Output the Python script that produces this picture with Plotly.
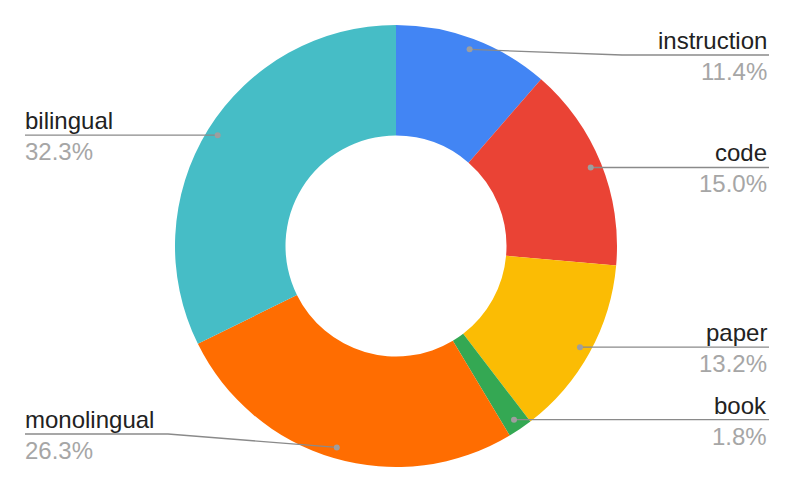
import numpy as np
import plotly.graph_objects as go

# slices clockwise from 12 o'clock
labels = ["instruction", "code", "paper", "book", "monolingual", "bilingual"]
shares = [11.4, 15.0, 13.2, 1.8, 26.3, 32.3]
colors = ["#4285F4", "#EA4335", "#FBBC04", "#34A853", "#FF6D01", "#46BDC6"]

W, H = 793, 490
CX, CY, R = 396, 246, 221   # pie centre / radius in pixels
DOT_R = 0.95 * R
LABEL_RIGHT, LABEL_LEFT = 769, 25
ELBOW_RIGHT, ELBOW_LEFT = 622, 168
Y_MIN, Y_MAX = 55, 434


def px(x, y):
    return x / W, 1 - y / H


fig = go.Figure(go.Pie(
    labels=labels, values=shares, sort=False, direction="clockwise", rotation=0,
    hole=0.5, textinfo="none", hoverinfo="label+percent",
    marker=dict(colors=colors, line=dict(width=0)),
    domain=dict(x=[(CX - R) / W, (CX + R) / W], y=[(H - CY - R) / H, (H - CY + R) / H]),
))

shapes, annotations = [], []
total = sum(shares)
cum = 0.0
for name, val in zip(labels, shares):
    mid = (cum + val / 2) / total * 2 * np.pi
    cum += val
    dx, dy = CX + DOT_R * np.sin(mid), CY - DOT_R * np.cos(mid)
    ly = min(max(dy, Y_MIN), Y_MAX)
    right = np.sin(mid) > 0
    end_x = LABEL_RIGHT if right else LABEL_LEFT
    elbow_x = ELBOW_RIGHT if right else ELBOW_LEFT
    pts = [(dx, dy), (elbow_x, ly), (end_x, ly)]
    path = "M " + " L ".join(f"{px(x, y)[0]},{px(x, y)[1]}" for x, y in pts)
    shapes.append(dict(type="path", xref="paper", yref="paper", path=path,
                       line=dict(color="#8a8a8a", width=1.3)))
    ax, ay = px(dx, dy)
    shapes.append(dict(type="circle", xref="paper", yref="paper", xsizemode="pixel", ysizemode="pixel",
                       xanchor=ax, yanchor=ay, x0=-3, x1=3, y0=-3, y1=3,
                       fillcolor="#9e9e9e", line=dict(width=0)))
    tx, ty = px(end_x, ly)
    anchor = "right" if right else "left"
    xs = -2 if not right else 0
    annotations.append(dict(xref="paper", yref="paper", x=tx, y=ty, xshift=xs, yshift=-1, text=name,
                            showarrow=False, xanchor=anchor, yanchor="bottom",
                            font=dict(size=24, color="#222222")))
    annotations.append(dict(xref="paper", yref="paper", x=tx, y=ty, xshift=xs, yshift=-1,
                            text=f"{val / total * 100:.1f}%",
                            showarrow=False, xanchor=anchor, yanchor="top",
                            font=dict(size=24, color="#a6a6a6")))

fig.update_layout(
    width=W, height=H, margin=dict(l=0, r=0, t=0, b=0),
    paper_bgcolor="white", plot_bgcolor="white", showlegend=False,
    font=dict(family="Liberation Sans, Arial, sans-serif"),
    shapes=shapes, annotations=annotations,
)

fig.write_html("out.html", config={"displayModeBar": False},
               post_script="document.body.style.margin='0';")
